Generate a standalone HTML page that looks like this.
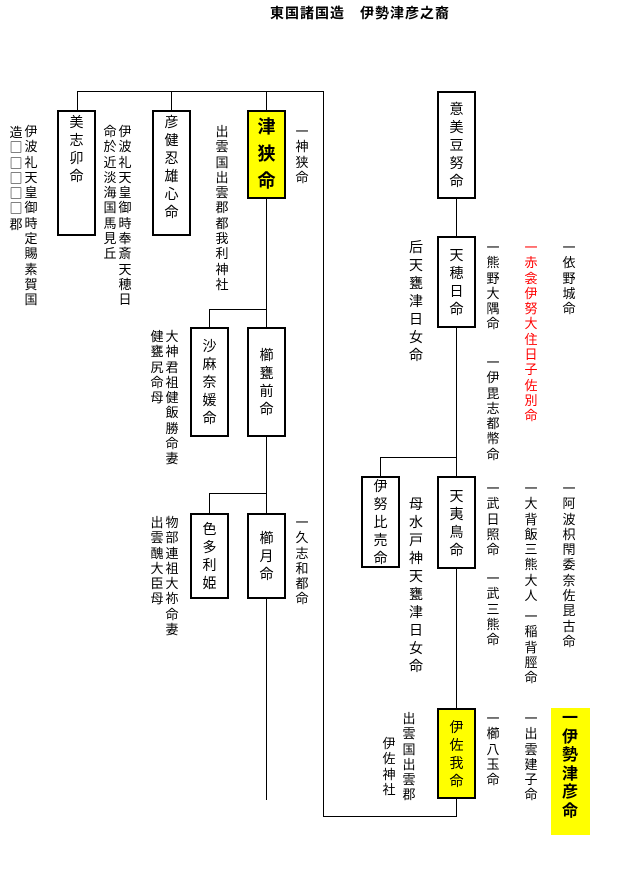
<!DOCTYPE html>
<html><head><meta charset="utf-8"><style>
body{margin:0;width:628px;height:873px;background:#fff;position:relative;overflow:hidden;font-family:"Liberation Sans","Noto Sans CJK JP",sans-serif;color:#000}
.l{position:absolute;background:#000}
.b{position:absolute;border:2px solid #000;box-sizing:border-box;display:flex;flex-direction:column;align-items:center;justify-content:center;background:#fff}
.b span{display:block;width:16px;word-break:break-all;text-align:center;font-size:14px;line-height:18px}
.t{position:absolute;width:16px;word-break:break-all;text-align:center;font-size:13px;line-height:15.3px}
.red{color:#f00}
</style></head><body>
<div style="position:absolute;left:270px;top:3px;font-size:14px;font-weight:bold;white-space:pre;letter-spacing:1px">東国諸国造　伊勢津彦之裔</div>

<!-- lines -->
<div class="l" style="left:77px;top:91px;width:247px;height:1px"></div>
<div class="l" style="left:323px;top:91px;width:1px;height:726px"></div>
<div class="l" style="left:323px;top:816px;width:134px;height:1px"></div>
<div class="l" style="left:77px;top:91px;width:1px;height:20px"></div>
<div class="l" style="left:171px;top:91px;width:1px;height:20px"></div>
<div class="l" style="left:266px;top:91px;width:1px;height:709px"></div>
<div class="l" style="left:209px;top:309px;width:58px;height:1px"></div>
<div class="l" style="left:209px;top:309px;width:1px;height:19px"></div>
<div class="l" style="left:209px;top:493px;width:58px;height:1px"></div>
<div class="l" style="left:209px;top:493px;width:1px;height:21px"></div>
<div class="l" style="left:456px;top:199px;width:1px;height:618px"></div>
<div class="l" style="left:380px;top:457px;width:77px;height:1px"></div>
<div class="l" style="left:380px;top:457px;width:1px;height:20px"></div>

<!-- boxes -->
<div class="b" style="left:57px;top:110px;width:39px;height:126px;justify-content:flex-start;padding-top:1px"><span>美志卯命</span></div>
<div class="b" style="left:152px;top:110px;width:39px;height:126px;justify-content:flex-start;padding-top:1px"><span>彦健忍雄心命</span></div>
<div class="b" style="left:247px;top:110px;width:39px;height:89px;background:#ff0"><span style="font-size:18px;line-height:27px;font-weight:bold;width:20px">津狭命</span></div>
<div class="b" style="left:190px;top:327px;width:39px;height:110px"><span>沙麻奈媛命</span></div>
<div class="b" style="left:247px;top:327px;width:39px;height:110px"><span>櫛甕前命</span></div>
<div class="b" style="left:190px;top:513px;width:39px;height:86px"><span>色多利姫</span></div>
<div class="b" style="left:247px;top:513px;width:39px;height:86px"><span>櫛月命</span></div>
<div class="b" style="left:437px;top:91px;width:39px;height:108px"><span>意美豆努命</span></div>
<div class="b" style="left:437px;top:236px;width:39px;height:92px"><span>天穂日命</span></div>
<div class="b" style="left:361px;top:476px;width:39px;height:92px"><span>伊努比売命</span></div>
<div class="b" style="left:437px;top:476px;width:39px;height:93px"><span>天夷鳥命</span></div>
<div class="b" style="left:437px;top:708px;width:39px;height:91px;background:#ff0"><span>伊佐我命</span></div>

<!-- annotations -->
<div class="t" style="left:23px;top:124px">伊波礼天皇御時定賜素賀国</div>
<div class="t" style="left:8px;top:124px;font-family:'Noto Sans CJK JP',sans-serif">造<br>□<br>□<br>□<br>□<br>□<br>郡</div>
<div class="t" style="left:117px;top:124px">伊波礼天皇御時奉斎天穂日</div>
<div class="t" style="left:102px;top:124px">命於近淡海国馬見丘</div>
<div class="t" style="left:214px;top:124px">出雲国出雲郡都我利神社</div>
<div class="t" style="left:294px;top:124px">一神狭命</div>
<div class="t" style="left:164px;top:329px">大神君祖健飯勝命妻</div>
<div class="t" style="left:149px;top:329px">健甕尻命母</div>
<div class="t" style="left:164px;top:515px">物部連祖大祢命妻</div>
<div class="t" style="left:149px;top:515px">出雲醜大臣母</div>
<div class="t" style="left:294px;top:515px">一久志和都命</div>
<div class="t" style="left:408px;top:238px;font-size:14px;line-height:18px">后天甕津日女命</div>
<div class="t" style="left:485px;top:240px">一熊野大隅命</div>
<div class="t" style="left:485px;top:355px">一伊毘志都幣命</div>
<div class="t red" style="left:523px;top:240px">一赤衾伊努大住日子佐別命</div>
<div class="t" style="left:561px;top:240px">一依野城命</div>
<div class="t" style="left:408px;top:495px;font-size:14px;line-height:18px">母水戸神天甕津日女命</div>
<div class="t" style="left:485px;top:481px">一武日照命</div>
<div class="t" style="left:485px;top:571px">一武三熊命</div>
<div class="t" style="left:523px;top:481px">一大背飯三熊大人</div>
<div class="t" style="left:523px;top:609px">一稲背脛命</div>
<div class="t" style="left:561px;top:481px">一阿波枳閇委奈佐昆古命</div>
<div class="t" style="left:401px;top:711px">出雲国出雲郡</div>
<div class="t" style="left:381px;top:736px">伊佐神社</div>
<div class="t" style="left:485px;top:711px">一櫛八玉命</div>
<div class="t" style="left:523px;top:711px">一出雲建子命</div>
<div style="position:absolute;left:551px;top:708px;width:39px;height:127px;background:#ff0"></div>
<div class="t" style="left:560px;top:710px;width:20px;font-size:16px;line-height:18.5px;font-weight:bold">一伊勢津彦命</div>
</body></html>
